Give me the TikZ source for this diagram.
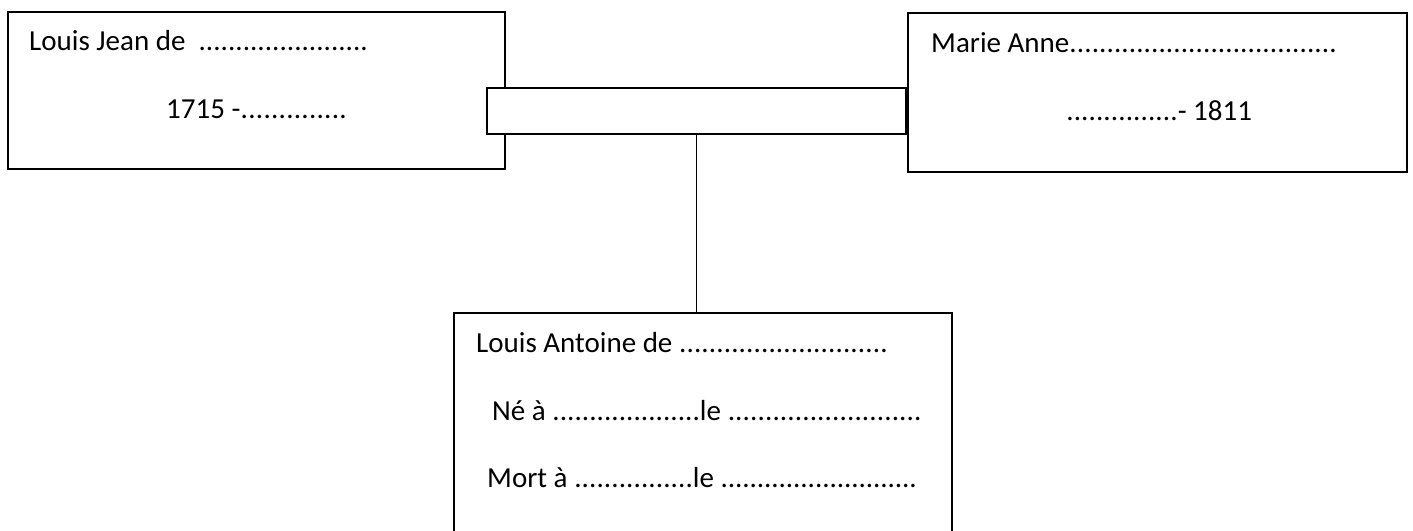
\documentclass[tikz,border=0pt]{standalone}
\usepackage{fontspec}
\setmainfont{Carlito}
\newcommand\mydots{\xleaders\hbox to 0.25em{\hss.\hss}\hfill}
\begin{document}
\begin{tikzpicture}[x=1pt,y=-1pt,
  box/.style={draw, line width=1.5pt, fill=white, inner sep=0pt, rectangle},
  txt/.style={anchor=base west, inner sep=0pt, font=\fontsize{29}{34}\selectfont}]
\useasboundingbox (0,0) rectangle (1413,530);
\clip (0,0) rectangle (1413,530);
\node[box, minimum width=497pt, minimum height=157pt] (dad) at (256.5,90.5) {};
\node[box, minimum width=499pt, minimum height=159pt] (mom) at (1157.5,92.5) {};
\node[box, minimum width=419pt, minimum height=46pt] (bar) at (696.5,111) {};
\node[box, minimum width=498pt, minimum height=247pt] (kid) at (703,436.5) {};
\draw[line width=1.5pt] (bar.south) -- (bar.south |- kid.north);
\node[txt] (d1) at (29,50) {\hbox to 339pt{Louis Jean de\ \ \mydots}};
\node[txt] (d2) at (166,118) {\hbox to 181pt{1715 -\mydots}};
\node[txt] (m1) at (931,52) {\hbox to 406pt{Marie Anne\mydots}};
\node[txt] (m2) at (1066,120) {\hbox to 186pt{\mydots- 1811}};
\node[txt] (k1) at (476,352) {\hbox to 412pt{Louis Antoine de \mydots}};
\node[txt] (k2) at (492,420) {\hbox to 430pt{\hbox to 208pt{Né à \mydots}le \mydots}};
\node[txt] (k3) at (487,487) {\hbox to 430pt{\hbox to 206pt{Mort à \mydots}le \mydots}};
\end{tikzpicture}
\end{document}
